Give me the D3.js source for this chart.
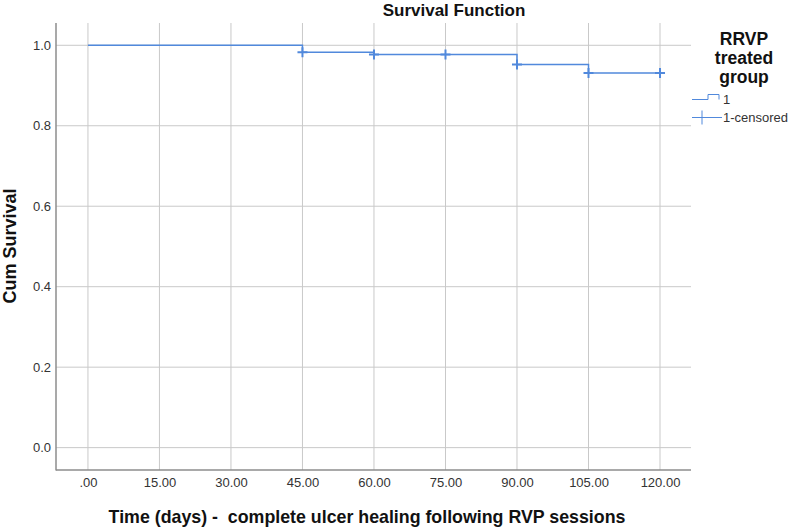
<!DOCTYPE html>
<html>
<head>
<meta charset="utf-8">
<script src="https://cdn.jsdelivr.net/npm/d3@7"></script>
<style>
  body { margin: 0; background: #fff; }
  svg { display: block; font-family: "Liberation Sans", Arial, sans-serif; }
</style>
</head>
<body>
<svg width="796" height="528"></svg>
<script>
// step survival estimates (time, cum survival after that time)
const stepTimes = [0, 45, 60, 90, 105, 120];
const stepValues = [1.0, 0.983, 0.977, 0.952, 0.931, 0.931];

// censored observations
const censorTimes = [45, 60, 75, 90, 105, 120];
const censorValues = [0.983, 0.977, 0.977, 0.952, 0.931, 0.931];

const xTicks = [0, 15, 30, 45, 60, 75, 90, 105, 120];
const yTicks = [0, 0.2, 0.4, 0.6, 0.8, 1.0];

const legendTitle = ["RRVP", "treated", "group"];
const legendLabels = ["1", "1-censored"];

const svg = d3.select("svg");
const plotL = 56, plotR = 691, plotT = 23, plotB = 470;
const lineColor = "#5189dc";

const x = d3.scaleLinear().domain([-6.7, 126.5]).range([plotL, plotR]);
const y = d3.scaleLinear().domain([-0.0556, 1.0554]).range([plotB, plotT]);

// grid
svg.append("g").selectAll("line")
  .data(xTicks)
  .join("line")
  .attr("x1", d => x(d)).attr("x2", d => x(d))
  .attr("y1", plotT).attr("y2", plotB)
  .attr("stroke", "#c9c9c9").attr("stroke-width", 1);

svg.append("g").selectAll("line")
  .data(yTicks)
  .join("line")
  .attr("x1", plotL).attr("x2", plotR)
  .attr("y1", d => y(d)).attr("y2", d => y(d))
  .attr("stroke", "#c9c9c9").attr("stroke-width", 1);

// axes
const xAxis = d3.axisBottom(x).tickValues(xTicks)
  .tickFormat(d => d === 0 ? ".00" : d.toFixed(2)).tickSize(0).tickPadding(8);
const gx = svg.append("g").attr("transform", `translate(0,${plotB})`).call(xAxis);
gx.select(".domain").remove();
gx.selectAll("text").attr("fill", "#333").style("font-size", "13px");

const yAxis = d3.axisLeft(y).tickValues(yTicks)
  .tickFormat(d3.format(".1f")).tickSize(0).tickPadding(5);
const gy = svg.append("g").attr("transform", `translate(${plotL},0)`).call(yAxis);
gy.select(".domain").remove();
gy.selectAll("text").attr("fill", "#333").style("font-size", "13px");

svg.append("line")
  .attr("x1", plotL).attr("x2", plotL).attr("y1", plotT).attr("y2", plotB + 0.5)
  .attr("stroke", "#8c8c8c").attr("stroke-width", 1.5);
svg.append("line")
  .attr("x1", plotL).attr("x2", plotR).attr("y1", plotB).attr("y2", plotB)
  .attr("stroke", "#8c8c8c").attr("stroke-width", 1.5);

// survival step line
const stepData = stepTimes.map((t, i) => [t, stepValues[i]]);
svg.append("path")
  .datum(stepData)
  .attr("fill", "none")
  .attr("stroke", lineColor)
  .attr("stroke-width", 1.5)
  .attr("d", d3.line().x(d => x(d[0])).y(d => y(d[1])).curve(d3.curveStepAfter));

// censor marks
const cs = 5;
svg.append("g").selectAll("path")
  .data(censorTimes.map((t, i) => [t, censorValues[i]]))
  .join("path")
  .attr("d", d => {
    const cx = x(d[0]), cy = y(d[1]);
    return `M${cx - cs},${cy}H${cx + cs}M${cx},${cy - cs}V${cy + cs}`;
  })
  .attr("stroke", lineColor)
  .attr("stroke-width", 2);

// titles
svg.append("text")
  .attr("x", 454).attr("y", 16)
  .attr("text-anchor", "middle")
  .style("font-size", "17px").style("font-weight", "bold").attr("fill", "#111")
  .text("Survival Function");

svg.append("text")
  .attr("x", 367).attr("y", 523)
  .attr("text-anchor", "middle")
  .style("font-size", "17.8px").style("font-weight", "bold").attr("fill", "#111")
  .style("white-space", "pre")
  .text("Time (days) -  complete ulcer healing following RVP sessions");

svg.append("text")
  .attr("transform", "translate(16,246) rotate(-90)")
  .attr("text-anchor", "middle")
  .style("font-size", "18px").style("font-weight", "bold").attr("fill", "#111")
  .text("Cum Survival");

// legend
svg.append("g").selectAll("text")
  .data(legendTitle)
  .join("text")
  .attr("x", 744).attr("y", (d, i) => 45 + i * 19)
  .attr("text-anchor", "middle")
  .style("font-size", "17.5px").style("font-weight", "bold").attr("fill", "#111")
  .text(d => d);

const lg = svg.append("g");
lg.append("path")
  .attr("d", "M692,99.5H708V94.5H719V99.5")
  .attr("fill", "none").attr("stroke", lineColor).attr("stroke-width", 1);
lg.append("path")
  .attr("d", "M692,117.5H722M702,110.5V124.5")
  .attr("fill", "none").attr("stroke", lineColor).attr("stroke-width", 1);
lg.selectAll("text")
  .data(legendLabels)
  .join("text")
  .attr("x", 723).attr("y", (d, i) => 104 + i * 18)
  .style("font-size", "13px").attr("fill", "#333")
  .text(d => d);
</script>
</body>
</html>
